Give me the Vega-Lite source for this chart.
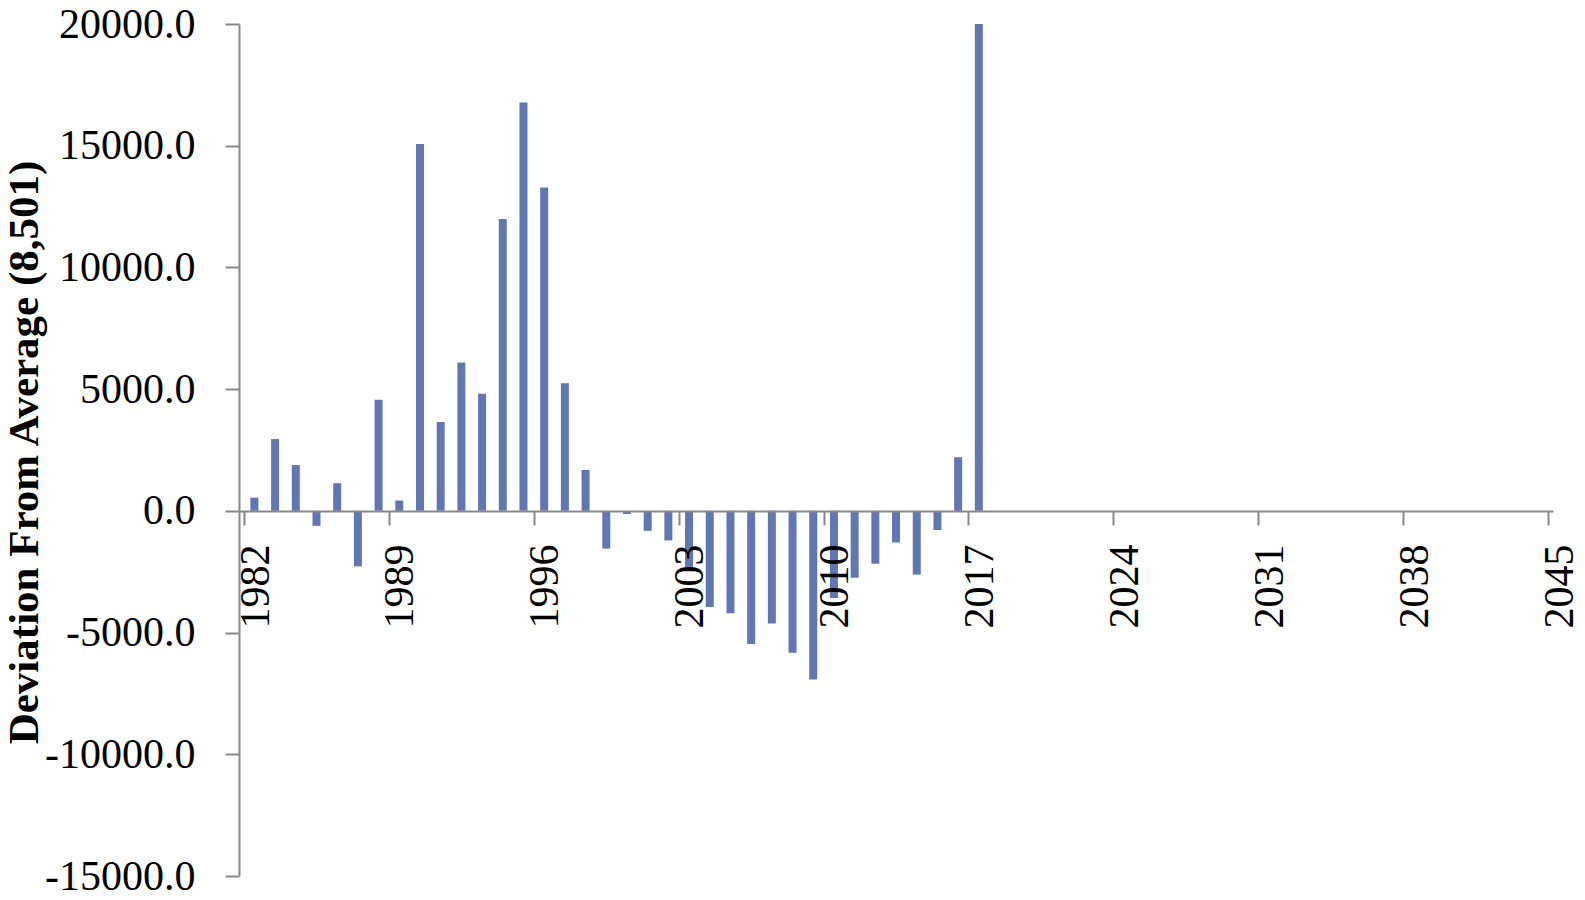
{
  "$schema": "https://vega.github.io/schema/vega-lite/v6.json",
  "width": 1314,
  "height": 852,
  "autosize": {"type": "none"},
  "padding": {"left": 239, "top": 24, "right": 32, "bottom": 24},
  "background": "white",
  "config": {"view": {"stroke": null}},
  "data": {
    "values": [
      {"year": 1982, "dev": 540},
      {"year": 1983, "dev": 2950},
      {"year": 1984, "dev": 1885},
      {"year": 1985, "dev": -615},
      {"year": 1986, "dev": 1135},
      {"year": 1987, "dev": -2280},
      {"year": 1988, "dev": 4565},
      {"year": 1989, "dev": 425},
      {"year": 1990, "dev": 15070},
      {"year": 1991, "dev": 3650},
      {"year": 1992, "dev": 6095},
      {"year": 1993, "dev": 4810},
      {"year": 1994, "dev": 11985},
      {"year": 1995, "dev": 16780},
      {"year": 1996, "dev": 13280},
      {"year": 1997, "dev": 5245},
      {"year": 1998, "dev": 1680},
      {"year": 1999, "dev": -1550},
      {"year": 2000, "dev": -130},
      {"year": 2001, "dev": -820},
      {"year": 2002, "dev": -1215},
      {"year": 2003, "dev": -2485},
      {"year": 2004, "dev": -3950},
      {"year": 2005, "dev": -4205},
      {"year": 2006, "dev": -5465},
      {"year": 2007, "dev": -4630},
      {"year": 2008, "dev": -5830},
      {"year": 2009, "dev": -6925},
      {"year": 2010, "dev": -3580},
      {"year": 2011, "dev": -2745},
      {"year": 2012, "dev": -2170},
      {"year": 2013, "dev": -1300},
      {"year": 2014, "dev": -2620},
      {"year": 2015, "dev": -790},
      {"year": 2016, "dev": 2200},
      {"year": 2017, "dev": 20000}
    ]
  },
  "mark": {"type": "bar", "width": 8, "xOffset": 10.4, "color": "#6077B4"},
  "encoding": {
    "x": {
      "field": "year",
      "type": "quantitative",
      "scale": {"domain": [1982, 2045], "nice": false, "zero": false},
      "axis": {
        "title": null,
        "values": [1982, 1989, 1996, 2003, 2010, 2017, 2024, 2031, 2038, 2045],
        "format": "d",
        "labelAngle": 270,
        "labelFont": "Liberation Serif",
        "labelFontSize": 42,
        "labelColor": "#000000",
        "labelPadding": 19,
        "labelOffset": 11,
        "labelOverlap": false,
        "labelFlush": false,
        "tickSize": 14,
        "tickColor": "#898989",
        "tickWidth": 2,
        "domainColor": "#898989",
        "domainWidth": 2,
        "grid": false,
        "offset": -365,
        "zindex": 1
      }
    },
    "y": {
      "field": "dev",
      "type": "quantitative",
      "scale": {"domain": [-15000, 20000], "nice": false},
      "axis": {
        "title": "Deviation From Average (8,501)",
        "titleFont": "Liberation Serif",
        "titleFontSize": 43,
        "titleFontWeight": "bold",
        "titleColor": "#000000",
        "titleAngle": 270,
        "titleAlign": "center",
        "titleBaseline": "bottom",
        "titleX": -193,
        "titleY": 428,
        "values": [-15000, -10000, -5000, 0, 5000, 10000, 15000, 20000],
        "labelExpr": "replace(format(datum.value, '.1f'), '\u2212', '-')",
        "labelFont": "Liberation Serif",
        "labelFontSize": 42,
        "labelColor": "#000000",
        "labelPadding": 30,
        "labelOverlap": false,
        "labelFlush": false,
        "tickSize": 14,
        "tickColor": "#898989",
        "tickWidth": 2,
        "domainColor": "#898989",
        "domainWidth": 2,
        "grid": false,
        "zindex": 1
      }
    }
  }
}
